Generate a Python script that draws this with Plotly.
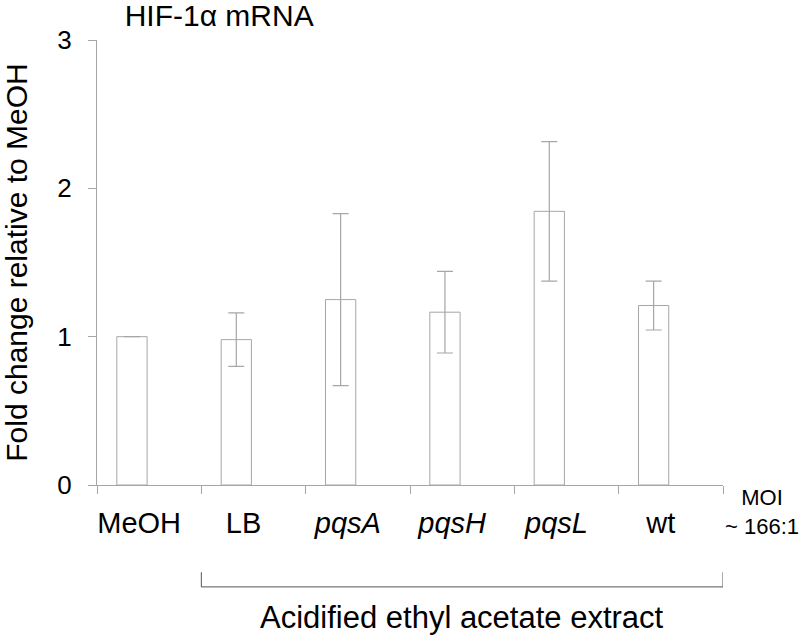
"""HIF-1a mRNA fold change bar chart."""

import plotly.graph_objects as go

# data
categories = ['MeOH', 'LB', 'pqsA', 'pqsH', 'pqsL', 'wt']
tick_labels = ['MeOH', 'LB', '<i>pqsA</i>', '<i>pqsH</i>', '<i>pqsL</i>', 'wt']
fold_change = [1.0, 0.98, 1.25, 1.165, 1.845, 1.21]
fold_error = [0.0, 0.18, 0.58, 0.275, 0.47, 0.165]

FONT = 'Arial, Liberation Sans, sans-serif'
GREY = '#a6a6a6'

fig = go.Figure(data=[
    go.Bar(
        x=categories,
        y=fold_change,
        width=0.29,
        offset=-0.31,
        marker=dict(color='white', line=dict(color=GREY, width=1)),
        error_y=dict(type='data', array=fold_error, visible=True,
                     color=GREY, thickness=1.2, width=8),
        showlegend=False,
    )
])

fig.update_layout(
    width=800,
    height=636,
    plot_bgcolor='white',
    paper_bgcolor='white',
    font=dict(family=FONT, color='black'),
    margin=dict(t=40, b=151, l=97, r=77),
    title=dict(text='HIF-1α mRNA', x=0.274, xanchor='center',
               y=0.975, yanchor='middle', font=dict(size=30, family=FONT)),
    xaxis=dict(
        type='category',
        range=[-0.5, 5.5],
        tickvals=categories,
        ticktext=tick_labels,
        tickson='boundaries',
        ticks='outside',
        ticklen=8,
        tickcolor=GREY,
        showline=True,
        linecolor=GREY,
        linewidth=1,
        showgrid=False,
        tickfont=dict(size=29),
        ticklabelstandoff=12,
        ticklabelshift=-10,
    ),
    yaxis=dict(
        range=[0, 3],
        dtick=1,
        ticks='outside',
        ticklen=8,
        tickcolor=GREY,
        showline=True,
        linecolor=GREY,
        linewidth=1,
        showgrid=False,
        zeroline=False,
        tickfont=dict(size=26),
        ticklabelstandoff=11,
        title=dict(text='Fold change relative to MeOH', font=dict(size=30),
                   standoff=20),
    ),
    shapes=[
        # bracket under the extract groups
        dict(type='path', xref='x', yref='paper',
             path='M 0.5,-0.196 L 0.5,-0.229 L 5.5,-0.229 L 5.5,-0.196',
             line=dict(color='#555555', width=1)),
    ],
    annotations=[
        dict(text='Acidified ethyl acetate extract', xref='x', yref='paper',
             x=3, y=-0.297, xanchor='center', yanchor='middle',
             showarrow=False, font=dict(size=31)),
        dict(text='MOI<br>~ 166:1', xref='paper', yref='paper',
             x=1.062, y=-0.061, xanchor='center', yanchor='middle',
             showarrow=False, font=dict(size=22)),
    ],
)

# drop the default 8px page margin so the figure sits at the window corner
fig.write_html("out.html", config={'displayModeBar': False},
               post_script="document.body.style.margin='0';")
